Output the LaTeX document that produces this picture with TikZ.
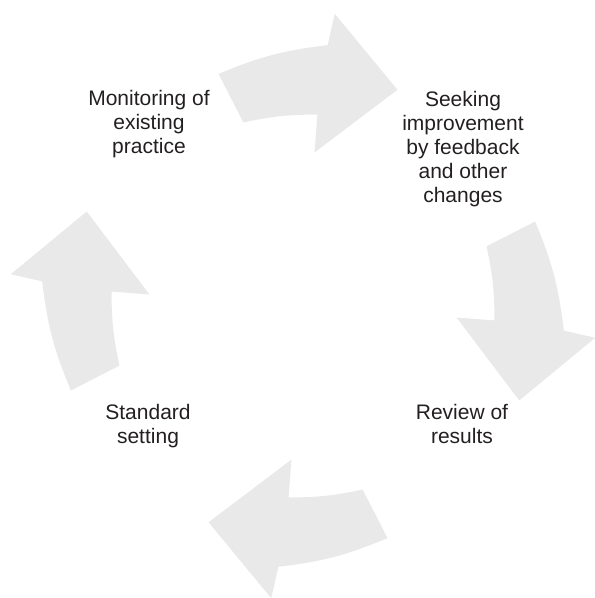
\documentclass[tikz,border=0pt]{standalone}
\usepackage{fontspec}
\setmainfont{Liberation Sans}
\definecolor{arrowfill}{RGB}{233,233,233}
\definecolor{labeltext}{RGB}{35,31,32}
\begin{document}
\begin{tikzpicture}[x=1pt,y=1pt,
  cyclearrow/.style={fill=arrowfill, draw=none},
  lbl/.style={font=\fontsize{21}{24}\selectfont, text=labeltext, align=center, anchor=base, inner sep=0pt}]
\useasboundingbox (0,0) rectangle (595,598);
\coordinate (ctr) at (303,292);
\foreach \r in {0,-90,-180,-270}{
  \begin{scope}[shift={(ctr)}, rotate=\r]
  \fill[cyclearrow] (110:247) to[bend left=8] (84.6:262) -- (83.8:294) -- (66.4:236) -- (85.7:154) -- (85.7:192) to[bend right=6] (108:193) -- cycle;
  \end{scope}
}
\node[lbl] (monitor) at (149,444) {Monitoring of\\existing\\practice};
\node[lbl] (seeking) at (463,395) {Seeking\\improvement\\by feedback\\and other\\changes};
\node[lbl] (review) at (462,154) {Review of\\results};
\node[lbl] (standard) at (148,154) {Standard\\setting};
\end{tikzpicture}
\end{document}
